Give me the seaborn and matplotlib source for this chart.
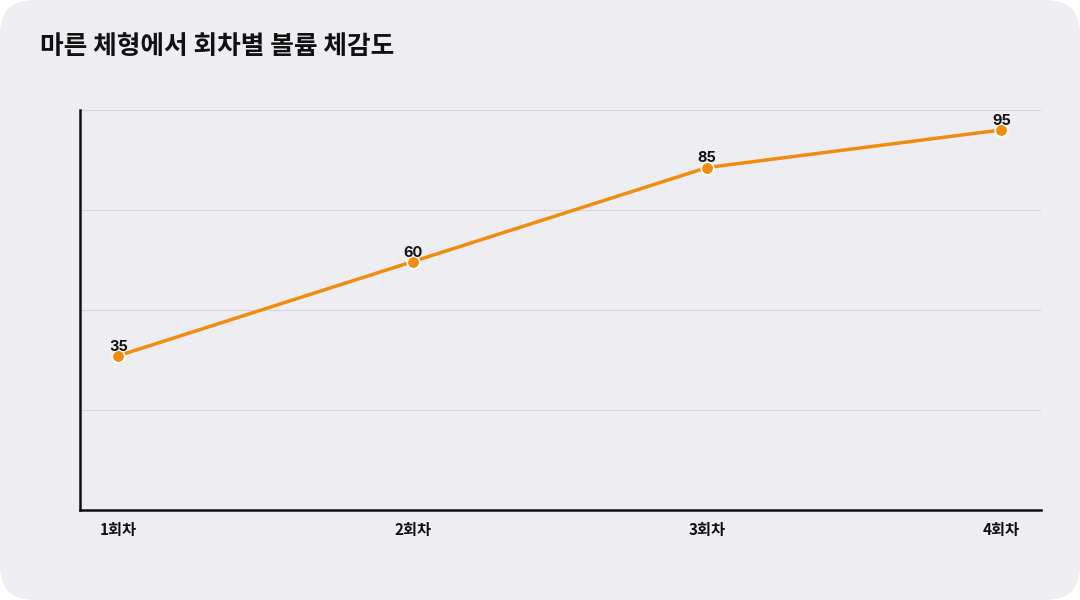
import numpy as np
import pandas as pd
import seaborn as sns
import matplotlib.pyplot as plt
from matplotlib.patches import FancyBboxPatch

rounds = ["1회차", "2회차", "3회차", "4회차"]
volume = [35, 60, 85, 95]
title = "마른 체형에서 회차별 볼륨 체감도"

bg = "#eeedf2"
orange = "#f28c0f"

sns.set_style("white")
plt.rcParams['font.family'] = ['Noto Sans CJK KR', 'DejaVu Sans']

fig = plt.figure(figsize=(10.8, 6), dpi=100)
fig.patch.set_facecolor("white")
panel = FancyBboxPatch((0, 0), 1, 1, boxstyle="round,pad=0,rounding_size=0.032",
                       transform=fig.transFigure, facecolor=bg, edgecolor="none",
                       mutation_aspect=1.8, zorder=-10)
fig.add_artist(panel)

ax = fig.add_axes([80 / 1080, 1 - 510 / 600, (1041 - 80) / 1080, 400 / 600])
ax.set_facecolor(bg)

df = pd.DataFrame({"round": np.arange(len(rounds)), "volume": volume})
sns.lineplot(data=df, x="round", y="volume", ax=ax, color=orange, linewidth=2.5,
             marker="o", markersize=9, markeredgecolor="white", markeredgewidth=1.2)

for i, v in enumerate(volume):
    ax.annotate(str(v), (i, v), xytext=(0, 1.5), textcoords="offset points",
                ha="center", va="bottom", fontsize=10.5, fontweight="bold",
                color="#111111", family=["Inter", "DejaVu Sans"])

ax.set_xlim(-0.13, 3.135)
ymin, ymax = -6, 100.3
ax.set_ylim(ymin, ymax)
ax.set_yticks(np.linspace(ymin, ymax, 5))
ax.set_yticklabels([])
ax.tick_params(axis="y", length=0)
ax.yaxis.grid(True, color="#d6d5da", linewidth=0.8)
ax.set_axisbelow(True)

ax.set_xticks(range(len(rounds)))
ax.set_xticklabels(rounds, fontsize=11, fontweight="bold", color="#111111")
ax.tick_params(axis="x", length=0, pad=9)
ax.set_xlabel("")
ax.set_ylabel("")

for side in ["top", "right"]:
    ax.spines[side].set_visible(False)
for side in ["left", "bottom"]:
    ax.spines[side].set_color("#111111")
    ax.spines[side].set_linewidth(1.8)

fig.text(40 / 1080, 1 - 47 / 600, title, fontsize=18.5, fontweight="bold",
         color="#111111", va="center", ha="left")

fig.savefig("out.png", dpi=100, facecolor=fig.get_facecolor())
